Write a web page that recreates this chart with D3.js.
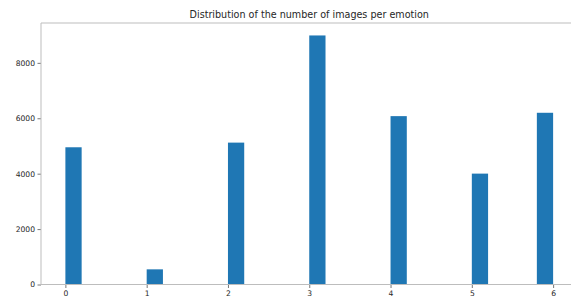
<!DOCTYPE html>
<html>
<head>
<meta charset="utf-8">
<script src="https://cdn.jsdelivr.net/npm/d3@7"></script>
<style>
  body { margin: 0; background: #fff; }
  text { font-family: "DejaVu Sans", sans-serif; fill: #262626; }
</style>
</head>
<body>
<div id="chart"></div>
<script>
// emotion label -> number of images
var emotions = [0, 1, 2, 3, 4, 5, 6]
var counts = [4953, 547, 5121, 8989, 6077, 4002, 6198]
var yTicks = [0, 2000, 4000, 6000, 8000]
var nBins = 30

var width = 571, height = 299
var margin = {left: 41, top: 23, bottom: 14.5}

// histogram bins over [0, 6]
var lo = d3.min(emotions), hi = d3.max(emotions)
var binW = (hi - lo) / nBins
var bins = emotions.map(function(e, i){
  var k = Math.min(Math.floor((e - lo) / binW), nBins - 1)
  return {x0: lo + k * binW, x1: lo + (k + 1) * binW, n: counts[i]}
})

var pad = (hi - lo) * 0.05
var plotRight = margin.left + (width - margin.left) // not used for range end
var x = d3.scaleLinear()
  .domain([lo - pad, hi + pad])
  .range([margin.left, 577.5])

var yMax = d3.max(counts) * 1.05
var y = d3.scaleLinear()
  .domain([0, yMax])
  .range([height - margin.bottom, margin.top])

var svg = d3.select('#chart').append('svg')
  .attr('width', width)
  .attr('height', height)

svg.selectAll('rect.bar')
  .data(bins)
  .enter()
  .append('rect')
  .attr('class', 'bar')
  .attr('x', function(d){ return x(d.x0) })
  .attr('y', function(d){ return y(d.n) })
  .attr('width', function(d){ return x(d.x1) - x(d.x0) })
  .attr('height', function(d){ return y(0) - y(d.n) })
  .attr('fill', '#1f77b4')

var xAxis = svg.append('g')
  .attr('transform', 'translate(0,' + y(0) + ')')
  .call(d3.axisBottom(x).tickValues(emotions).tickSize(3.5).tickPadding(2.5).tickFormat(d3.format('d')))

var yAxis = svg.append('g')
  .attr('transform', 'translate(' + margin.left + ',0)')
  .call(d3.axisLeft(y).tickValues(yTicks).tickSize(3.5).tickPadding(2.5).tickFormat(d3.format('d')))

svg.selectAll('.domain').remove()
svg.selectAll('.tick line').attr('stroke', '#555').attr('stroke-width', 0.8)
svg.selectAll('.tick text').style('font-size', '7.6px').attr('fill', '#262626')

// spines
var spine = '#bdbdbd'
svg.append('line').attr('x1', margin.left).attr('x2', margin.left)
  .attr('y1', y(yMax)).attr('y2', y(0)).attr('stroke', spine).attr('stroke-width', 1)
svg.append('line').attr('x1', margin.left).attr('x2', 577.5)
  .attr('y1', y(0)).attr('y2', y(0)).attr('stroke', spine).attr('stroke-width', 1)
svg.append('line').attr('x1', margin.left).attr('x2', 577.5)
  .attr('y1', y(yMax)).attr('y2', y(yMax)).attr('stroke', spine).attr('stroke-width', 1)

svg.append('text')
  .attr('x', (margin.left + 577.5) / 2)
  .attr('y', 17.5)
  .attr('text-anchor', 'middle')
  .style('font-size', '9.6px')
  .text('Distribution of the number of images per emotion')
</script>
</body>
</html>
